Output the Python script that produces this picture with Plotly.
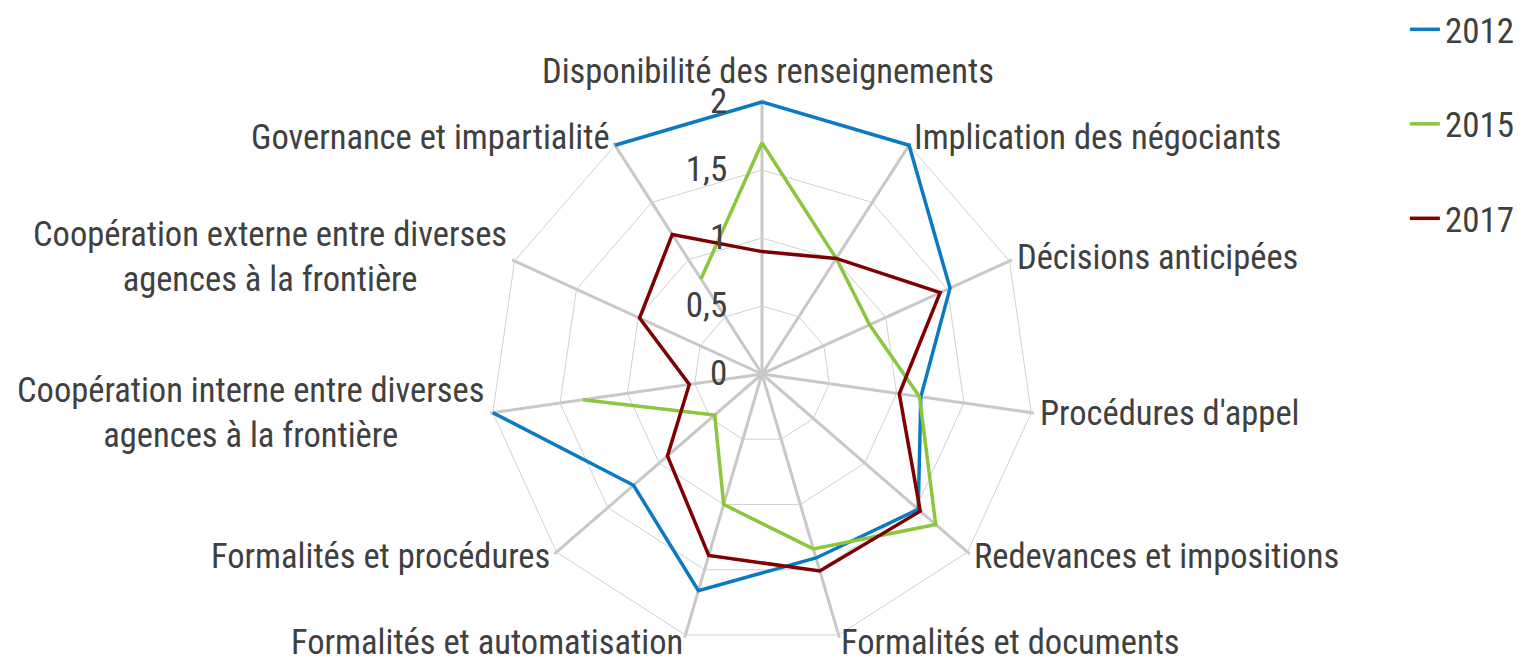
import math
import plotly.graph_objects as go

# axes, clockwise from the top
categories = [
    "Disponibilité des renseignements",
    "Implication des négociants",
    "Décisions anticipées",
    "Procédures d'appel",
    "Redevances et impositions",
    "Formalités et documents",
    "Formalités et automatisation",
    "Formalités et procédures",
    "Coopération interne entre diverses<br>agences à la frontière",
    "Coopération externe entre diverses<br>agences à la frontière",
    "Governance et impartialité",
]

# None = no value for that year (gap in the line)
values_2012 = [2.0, 2.0, 1.52, 1.18, 1.52, 1.41, 1.66, 1.25, 2.0, None, 2.0]
values_2015 = [1.70, 1.01, 0.87, 1.17, 1.69, 1.34, 1.00, 0.46, 1.33, None, 0.83]
values_2017 = [0.90, 1.01, 1.44, 1.02, 1.54, 1.51, 1.39, 0.92, 0.54, 0.99, 1.22]

radial_ticks = [0, 0.5, 1, 1.5, 2]

FONT = "Liberation Sans Narrow, Arial Narrow, Roboto Condensed, Liberation Sans, Arial, sans-serif"
TEXT = "#404040"
W, H = 1532, 661

series = [
    ("2012", values_2012, "#0a7bc2"),
    ("2015", values_2015, "#8cc63f"),
    ("2017", values_2017, "#7f0000"),
]

fig = go.Figure()
for name, vals, color in series:
    # close the loop
    fig.add_trace(go.Scatterpolar(
        r=vals + [vals[0]],
        theta=categories + [categories[0]],
        mode="lines",
        name=name,
        legendgroup=name,
        connectgaps=False,
        cliponaxis=False,
        line=dict(color=color, width=3.5),
    ))

# category labels sit just outside each vertex (Excel style)
cx, cy, rad = 760, 373, 270
n = len(categories)
annotations = []
for i, label in enumerate(categories):
    a = math.radians(90 - i * 360 / n)
    c, s = math.cos(a), math.sin(a)
    vx = cx + rad * c
    vy = cy - rad * s
    if abs(c) < 0.1:
        xa, ya = "center", "bottom"
        px_, py_ = vx, vy - 18
    else:
        ya = "middle"
        py_ = vy - 10 * s - 8
        if c > 0:
            xa, px_ = "left", vx + 10 * c - 7.5
        else:
            xa, px_ = "right", vx + 10 * c - 4.6
    annotations.append(dict(
        text=label, x=px_ / W, y=1 - py_ / H, xref="paper", yref="paper",
        xanchor=xa, yanchor=ya, align="center", showarrow=False,
        font=dict(size=34.5, color=TEXT, family=FONT),
    ))

fig.update_layout(
    width=W, height=H,
    paper_bgcolor="white",
    plot_bgcolor="white",
    separators=", ",
    font=dict(family=FONT, color=TEXT, size=32),
    margin=dict(l=0, r=0, t=0, b=0, autoexpand=False),
    annotations=annotations,
    polar=dict(
        domain=dict(x=[0.31286, 0.67148], y=[0.03071, 0.86188]),
        gridshape="linear",
        bgcolor="white",
        radialaxis=dict(
            range=[0, 2.02],
            tickvals=radial_ticks,
            angle=90,
            tickangle=90,
            side="counterclockwise",
            showline=False,
            ticks="outside",
            ticklen=22,
            tickcolor="rgba(0,0,0,0)",
            gridcolor="#d0d0d0",
            gridwidth=1,
            tickfont=dict(size=35, color=TEXT),
        ),
        angularaxis=dict(
            rotation=90,
            direction="clockwise",
            showline=False,
            gridcolor="#c8c8c8",
            gridwidth=3,
            ticks="",
            showticklabels=False,
        ),
    ),
    legend=dict(
        x=0.9118, y=1.012, xanchor="left", yanchor="top",
        font=dict(size=35, color=TEXT),
        tracegroupgap=46,
        bgcolor="rgba(0,0,0,0)",
    ),
)

fig.write_html("out.html")
